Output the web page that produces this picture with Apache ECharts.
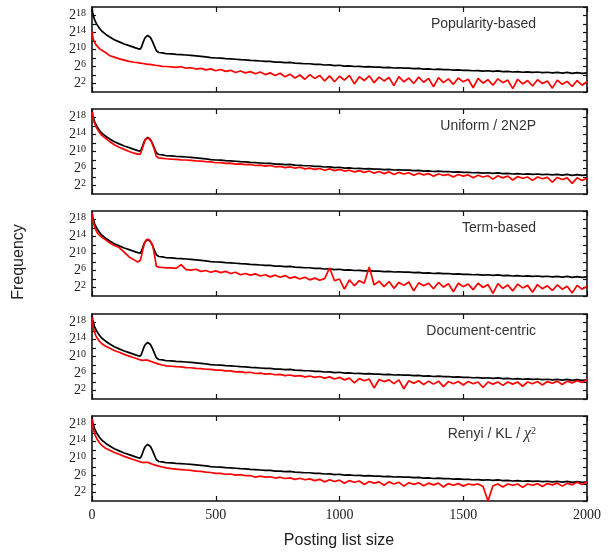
<!DOCTYPE html>
<html lang="en">
<head>
<meta charset="UTF-8">
<title>Posting list size frequency</title>
<script src="https://cdn.jsdelivr.net/npm/echarts/dist/echarts.min.js"></script>
<style>
  html, body { margin: 0; padding: 0; background: #fff; }
  #chart { width: 609px; height: 552px; }
</style>
</head>
<body>
<div id="chart"></div>
<script>
// posting list sizes where the curves were sampled
const postingSizes = [
  0, 3, 6, 10, 15, 20, 30, 40, 55, 70, 90, 110, 130, 150, 170, 185, 195,
  200, 205, 210, 215, 220, 225, 230, 235, 240, 245, 250, 255, 260, 270, 285, 300,
  320, 340, 360, 380, 400, 420, 440, 460, 480, 500,
  520, 540, 560, 580, 600, 620, 640, 660, 680, 700,
  720, 740, 760, 780, 800, 820, 840, 860, 880, 900,
  920, 940, 960, 980, 1000, 1020, 1040, 1060, 1080, 1100,
  1120, 1140, 1160, 1180, 1200, 1220, 1240, 1260, 1280, 1300,
  1320, 1340, 1360, 1380, 1400, 1420, 1440, 1460, 1480, 1500,
  1520, 1540, 1560, 1580, 1600, 1620, 1640, 1660, 1680, 1700,
  1720, 1740, 1760, 1780, 1800, 1820, 1840, 1860, 1880, 1900,
  1920, 1940, 1960, 1980, 2000
];

// log2(frequency), black reference curve (same in every panel)
const blackFreq = [
  19.6, 18.6, 17.8, 17.1, 16.4, 15.9, 15.0, 14.3, 13.6, 13.0, 12.3, 11.8, 11.3, 10.9, 10.5, 10.2, 10.1,
  10.6, 11.4, 12.2, 12.8, 13.2, 13.3, 13.2, 12.9, 12.4, 11.8, 11.1, 10.4, 9.7, 9.3, 9.2, 9.0,
  8.95, 8.85, 8.8, 8.7, 8.6, 8.5, 8.4, 8.25, 8.1, 8.0,
  7.95, 7.85, 7.8, 7.7, 7.6, 7.55, 7.45, 7.4, 7.3, 7.2,
  7.2, 7.05, 7.05, 6.9, 6.95, 6.8, 6.75, 6.65, 6.65, 6.5,
  6.5, 6.35, 6.4, 6.2, 6.3, 6.1, 6.15, 6.0, 6.05, 5.9,
  5.95, 5.85, 5.85, 5.75, 5.8, 5.65, 5.7, 5.6, 5.6, 5.5,
  5.55, 5.4, 5.45, 5.3, 5.4, 5.25, 5.3, 5.15, 5.2, 5.1,
  5.1, 5.0, 5.05, 4.9, 5.0, 4.85, 4.95, 4.8, 4.85, 4.7,
  4.8, 4.65, 4.75, 4.6, 4.7, 4.55, 4.65, 4.5, 4.6, 4.45,
  4.6, 4.4, 4.55, 4.4, 4.5
];

const redPopularity = [
  14.2, 13.0, 12.3, 11.8, 11.2, 10.8, 10.2, 9.8, 9.3, 8.6, 8.2, 7.8, 7.5, 7.2, 7.0, 6.9, 6.8,
  6.75, 6.7, 6.7, 6.6, 6.6, 6.5, 6.5, 6.5, 6.4, 6.4, 6.3, 6.3, 6.2, 6.2, 6.0, 6.0,
  5.9, 5.8, 5.95, 5.6, 5.7, 5.4, 5.55, 5.2, 5.45, 5.0,
  5.3, 4.85, 5.1, 4.6, 4.95, 4.5, 4.8, 4.3, 4.7, 4.1,
  4.5, 3.9, 4.4, 3.6, 4.2, 3.3, 4.0, 3.0, 4.1, 3.2,
  3.9, 2.6, 3.8, 2.4, 3.7, 2.8, 3.9, 1.9, 3.6, 2.7,
  3.8, 2.2, 3.5, 2.6, 3.4, 1.5, 3.6, 2.4, 3.3, 2.0,
  3.5, 2.3, 3.2, 1.2, 3.4, 2.2, 3.1, 1.8, 3.3, 2.4,
  3.0, 1.0, 3.2, 2.1, 2.9, 1.6, 3.1, 2.2, 2.8, 0.8,
  3.0, 1.9, 2.7, 1.4, 2.9, 2.0, 2.6, 0.9, 2.8, 1.8,
  2.5, 1.3, 2.7, 1.6, 2.4
];

const redUniform = [
  19.4, 18.2, 17.4, 16.7, 16.0, 15.4, 14.5, 13.8, 13.1, 12.4, 11.6, 11.0, 10.5, 10.0, 9.6, 9.4, 9.4,
  10.1, 11.0, 11.9, 12.6, 13.1, 13.2, 13.1, 12.8, 12.3, 11.6, 10.8, 9.8, 8.8, 8.5, 8.4, 8.3,
  8.2, 8.15, 8.05, 8.0, 7.9, 7.8, 7.75, 7.6, 7.55, 7.35,
  7.4, 7.2, 7.25, 7.05, 7.1, 6.9, 6.95, 6.7, 6.8, 6.55,
  6.7, 6.4, 6.5, 6.2, 6.4, 6.1, 6.3, 5.9, 6.1, 5.8,
  6.0, 5.6, 5.9, 5.5, 5.8, 5.4, 5.6, 5.2, 5.5, 5.1,
  5.4, 4.9, 5.3, 4.8, 5.2, 4.6, 5.1, 4.7, 5.0, 4.4,
  4.9, 4.5, 4.8, 4.2, 4.7, 4.4, 4.6, 4.0, 4.6, 4.2,
  4.5, 3.8, 4.4, 4.0, 4.3, 3.5, 4.3, 3.8, 4.2, 3.3,
  4.1, 3.7, 4.0, 3.2, 4.0, 3.6, 3.9, 2.8, 3.9, 3.4,
  3.8, 2.5, 3.8, 3.2, 3.7
];

const redTerm = [
  19.6, 18.2, 17.2, 16.4, 15.6, 15.0, 14.3, 13.8, 13.2, 12.6, 11.9, 11.4, 10.3, 9.2, 8.5, 8.0, 8.4,
  9.5, 10.8, 12.0, 12.8, 13.3, 13.4, 13.3, 13.0, 12.5, 11.9, 10.5, 8.8, 7.0, 6.8, 6.7, 6.6,
  6.6, 6.5, 7.4, 6.2, 6.1, 6.3, 5.8, 6.0, 5.6, 5.9,
  5.5, 5.8, 5.3, 5.6, 5.0, 5.3, 4.9, 5.2, 4.7, 5.0,
  4.5, 4.9, 4.4, 4.8, 4.2, 4.5, 4.0, 4.4, 3.8, 4.2,
  3.7, 4.1, 6.6, 3.6, 4.0, 1.6, 3.8, 2.4, 3.6, 3.0,
  6.8, 2.6, 3.5, 2.2, 3.4, 1.8, 3.2, 2.5, 3.3, 1.2,
  3.1, 2.4, 3.0, 1.7, 3.2, 2.1, 2.9, 1.0, 3.0, 2.2,
  2.8, 1.5, 3.0, 2.0, 2.7, 0.6, 2.9, 1.8, 2.6, 1.2,
  2.8, 1.9, 2.5, 0.9, 2.7, 1.7, 2.4, 1.3, 2.6, 1.6,
  2.3, 0.7, 2.5, 1.6, 2.3
];

const redDocument = [
  19.2, 17.6, 16.6, 15.8, 15.0, 14.4, 13.6, 13.0, 12.4, 12.0, 11.4, 11.0, 10.5, 10.1, 9.7, 9.4, 9.2,
  9.15, 9.1, 9.1, 9.15, 9.2, 9.15, 9.0, 8.9, 8.8, 8.7, 8.6, 8.5, 8.4, 8.2, 8.0, 7.8,
  7.7, 7.6, 7.55, 7.4, 7.35, 7.2, 7.15, 7.0, 6.95, 6.8,
  6.8, 6.6, 6.6, 6.4, 6.45, 6.2, 6.3, 6.0, 6.1, 5.85,
  5.95, 5.7, 5.8, 5.5, 5.65, 5.4, 5.5, 5.2, 5.4, 5.1,
  5.3, 4.9, 5.2, 4.7, 5.1, 4.5, 4.9, 3.8, 4.8, 4.3,
  4.7, 2.6, 4.6, 4.1, 4.5, 3.6, 4.5, 2.4, 4.3, 3.7,
  4.3, 3.4, 4.2, 3.5, 4.2, 2.9, 4.1, 3.6, 4.1, 3.3,
  4.1, 3.6, 4.0, 2.7, 4.0, 3.5, 4.0, 3.2, 4.0, 3.5,
  4.0, 3.0, 4.0, 3.6, 4.1, 3.3, 4.1, 3.7, 4.2, 3.4,
  4.2, 3.8, 4.3, 3.9, 4.6
];

const redRenyi = [
  19.3, 17.8, 16.8, 16.0, 15.2, 14.6, 13.7, 13.1, 12.4, 12.0, 11.4, 11.0, 10.5, 10.1, 9.7, 9.4, 9.2,
  9.1, 9.05, 9.05, 9.1, 9.15, 9.1, 8.95, 8.85, 8.75, 8.65, 8.55, 8.45, 8.35, 8.2, 8.0, 7.8,
  7.6, 7.5, 7.4, 7.3, 7.2, 7.05, 6.95, 6.8, 6.7, 6.5,
  6.5, 6.3, 6.35, 6.1, 6.2, 5.95, 6.0, 5.6, 5.85, 5.6,
  5.7, 5.4, 5.6, 5.3, 5.45, 5.1, 5.35, 5.0, 5.2, 4.8,
  5.1, 4.5, 5.0, 4.6, 4.9, 4.2, 4.8, 4.4, 4.7, 3.9,
  4.6, 4.2, 4.5, 3.7, 4.5, 4.0, 4.4, 3.5, 4.3, 3.9,
  4.3, 3.6, 4.2, 3.8, 4.2, 3.3, 4.1, 3.7, 4.1, 3.5,
  4.0, 3.8, 4.0, 3.4, 0.0, 3.6, 4.0, 3.3, 4.0, 3.7,
  4.0, 3.2, 4.0, 3.7, 4.1, 3.4, 4.1, 3.8, 4.2, 3.5,
  4.2, 3.8, 4.4, 3.9, 4.5
];

const redSeries = [redPopularity, redUniform, redTerm, redDocument, redRenyi];
const panelTitles = [
  'Popularity-based',
  'Uniform / 2N2P',
  'Term-based',
  'Document-centric',
  '{a|Renyi / KL / }{c|χ}{s|2}'
];
const panelTops = [7, 109, 211, 314, 416];
const panelHeight = 85;

const serif = 'Liberation Serif';
const sans = 'Liberation Sans';

function makeX(i, pos, labels) {
  return {
    type: 'value', gridIndex: i, position: pos, min: 0, max: 2000, interval: 500,
    axisLine: { show: true, onZero: false, lineStyle: { color: '#111', width: 1.6 } },
    axisTick: { show: true, inside: true, length: 5, lineStyle: { color: '#111', width: 1.2 } },
    axisLabel: {
      show: labels, margin: 7, fontFamily: serif, fontSize: 14, color: '#222',
      formatter: function (v) { return String(v); }
    },
    splitLine: { show: false }
  };
}

function makeY(i, pos, labels) {
  return {
    type: 'value', gridIndex: i, position: pos, min: 0, max: 20, interval: 2,
    axisLine: { show: true, onZero: false, lineStyle: { color: '#111', width: 1.6 } },
    axisTick: { show: true, inside: true, length: 4, lineStyle: { color: '#111', width: 1.2 } },
    axisLabel: {
      show: labels, margin: 6, showMinLabel: false, showMaxLabel: false,
      formatter: function (v) { return v % 4 === 2 ? '{b|2}{e|' + v + '}' : ''; },
      rich: {
        b: { fontFamily: serif, fontSize: 14, color: '#222', lineHeight: 15, verticalAlign: 'middle' },
        e: { fontFamily: serif, fontSize: 10, color: '#222', verticalAlign: 'top', lineHeight: 15 }
      }
    },
    splitLine: { show: false }
  };
}

function lineOf(values, i, color, z) {
  return {
    type: 'line', xAxisIndex: 2 * i, yAxisIndex: 2 * i,
    data: postingSizes.map((x, k) => [x, values[k]]),
    showSymbol: false, symbol: 'none', smooth: false, z: z,
    lineStyle: { color: color, width: 1.7 },
    animation: false
  };
}

const grids = [], xAxes = [], yAxes = [], series = [], titles = [];
panelTops.forEach((top, i) => {
  grids.push({ left: 92, right: 22, top: top, height: panelHeight });
  xAxes.push(makeX(i, 'bottom', i === 4));
  xAxes.push(makeX(i, 'top', false));
  yAxes.push(makeY(i, 'left', true));
  yAxes.push(makeY(i, 'right', false));
  series.push(lineOf(blackFreq, i, '#000', 2));
  series.push(lineOf(redSeries[i], i, '#ff0000', 3));
  titles.push({
    text: panelTitles[i], right: 73, top: top + 10, padding: 0,
    textStyle: {
      fontFamily: sans, fontSize: 14, fontWeight: 'normal', color: '#333',
      rich: {
        a: { fontFamily: sans, fontSize: 14, color: '#333' },
        c: { fontFamily: serif, fontStyle: 'italic', fontSize: 16, color: '#333' },
        s: { fontFamily: serif, fontSize: 10, color: '#333', verticalAlign: 'top', lineHeight: 16 }
      }
    }
  });
});

const chart = echarts.init(document.getElementById('chart'));
chart.setOption({
  backgroundColor: '#fff',
  animation: false,
  title: titles,
  grid: grids,
  xAxis: xAxes,
  yAxis: yAxes,
  series: series,
  graphic: [
    {
      type: 'text', x: 19, y: 262, rotation: Math.PI / 2,
      style: { text: 'Frequency', fontFamily: sans, fontSize: 16, fill: '#222', align: 'center', verticalAlign: 'middle' }
    },
    {
      type: 'text', x: 339, y: 541,
      style: { text: 'Posting list size', fontFamily: sans, fontSize: 16, fill: '#222', align: 'center', verticalAlign: 'middle' }
    }
  ]
});
</script>
</body>
</html>
